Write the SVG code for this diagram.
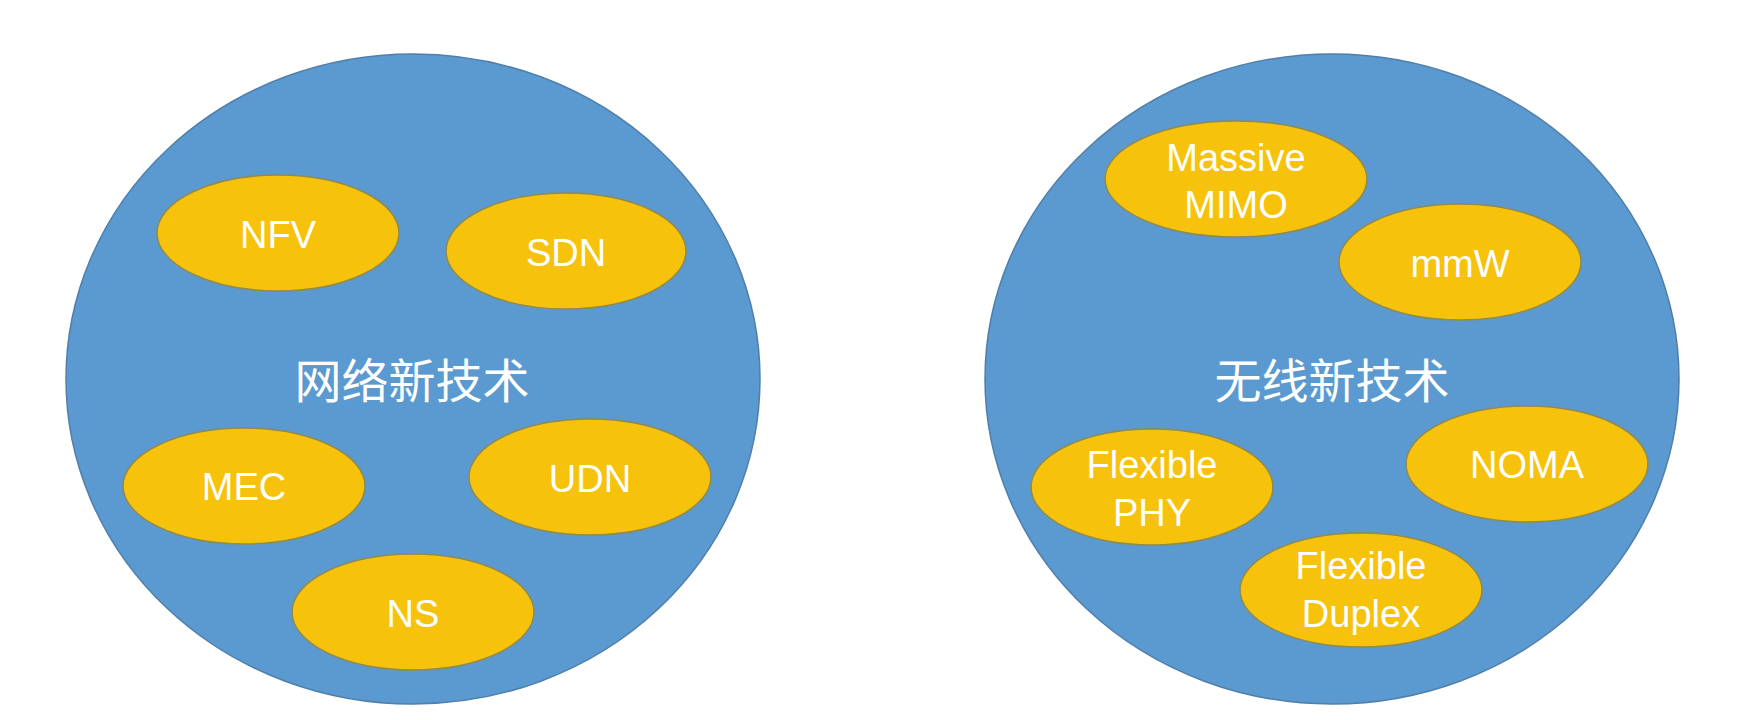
<svg xmlns="http://www.w3.org/2000/svg" width="1738" height="720" viewBox="0 0 1738 720">
<style>
.big{fill:#5B9AD0;stroke:#4F7FAA;stroke-width:1.5}
.node{fill:#F6C20C;stroke:#8E8A50;stroke-width:1.5}
.lbl{font-family:"Liberation Sans",Arial,sans-serif;font-size:38px;fill:#FFFFFF;text-anchor:middle}
.cjk{font-family:"Liberation Sans","Noto Sans CJK SC",sans-serif;font-size:47px;fill:#FFFFFF;text-anchor:middle}
</style>
<rect width="1738" height="720" fill="#FFFFFF"/>
<g id="network">
<ellipse class="big" cx="413" cy="379" rx="347" ry="325"/>
<text class="cjk" x="412" y="398">网络新技术</text>
</g>
<g id="nfv"><ellipse class="node" cx="278" cy="233" rx="121" ry="58"/><text class="lbl" x="278" y="248">NFV</text></g>
<g id="sdn"><ellipse class="node" cx="566" cy="251" rx="120" ry="58"/><text class="lbl" x="566" y="266">SDN</text></g>
<g id="mec"><ellipse class="node" cx="244" cy="486" rx="121" ry="58"/><text class="lbl" x="244" y="500">MEC</text></g>
<g id="udn"><ellipse class="node" cx="590" cy="477" rx="121" ry="58"/><text class="lbl" x="590" y="492">UDN</text></g>
<g id="ns"><ellipse class="node" cx="413" cy="612" rx="121" ry="58"/><text class="lbl" x="413" y="627">NS</text></g>
<g id="wireless">
<ellipse class="big" cx="1332" cy="379" rx="347" ry="325"/>
<text class="cjk" x="1332" y="398">无线新技术</text>
</g>
<g id="massive-mimo"><ellipse class="node" cx="1236" cy="179" rx="131" ry="58"/><text class="lbl" x="1236" y="171">Massive</text><text class="lbl" x="1236" y="218">MIMO</text></g>
<g id="mmw"><ellipse class="node" cx="1460" cy="262" rx="121" ry="58"/><text class="lbl" x="1460" y="277">mmW</text></g>
<g id="noma"><ellipse class="node" cx="1527" cy="464" rx="121" ry="58"/><text class="lbl" x="1527" y="478">NOMA</text></g>
<g id="flexible-phy"><ellipse class="node" cx="1152" cy="487" rx="121" ry="58"/><text class="lbl" x="1152" y="478">Flexible</text><text class="lbl" x="1152" y="526">PHY</text></g>
<g id="flexible-duplex"><ellipse class="node" cx="1361" cy="590" rx="121" ry="57"/><text class="lbl" x="1361" y="579">Flexible</text><text class="lbl" x="1361" y="627">Duplex</text></g>
<g id="connectors"></g>
</svg>
